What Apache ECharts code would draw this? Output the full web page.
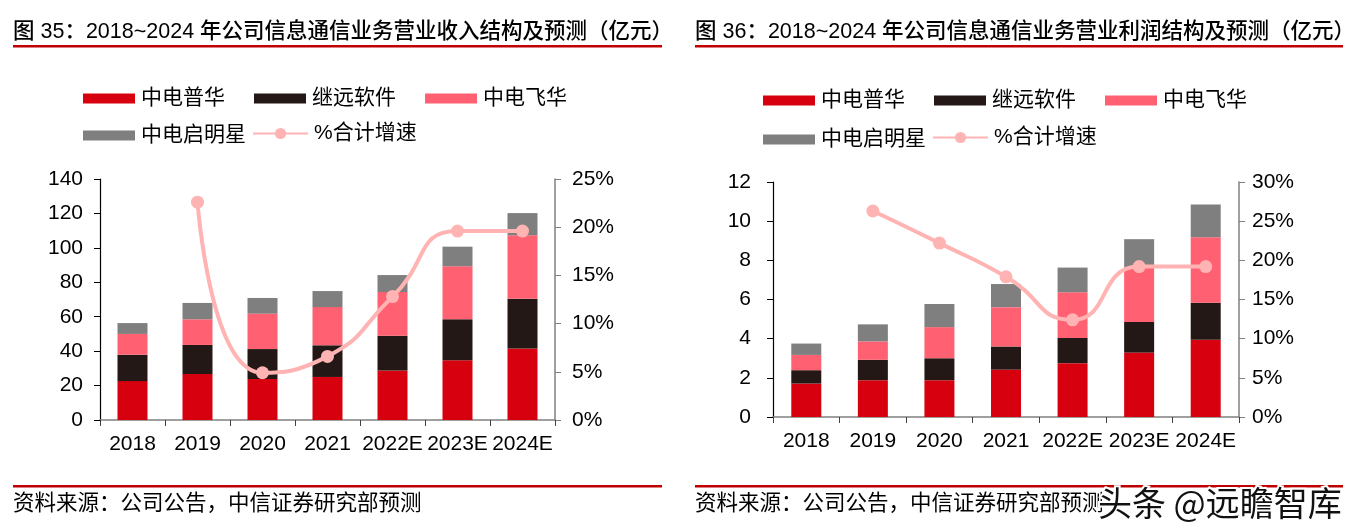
<!DOCTYPE html>
<html>
<head>
<meta charset="utf-8">
<script src="https://cdn.jsdelivr.net/npm/echarts@6/dist/echarts.min.js"></script>
<style>
html,body{margin:0;padding:0;background:#fff;}
#wrap{position:relative;width:1359px;height:531px;overflow:hidden;}
#c1{position:absolute;left:0;top:0;width:680px;height:531px;}
#c2{position:absolute;left:680px;top:0;width:679px;height:531px;}
</style>
</head>
<body>
<div id="wrap"><div id="c1"></div><div id="c2"></div></div>
<script>
const categories = ['2018', '2019', '2020', '2021', '2022E', '2023E', '2024E'];
const seriesNames = ['中电普华', '继远软件', '中电飞华', '中电启明星', '%合计增速'];

// 图35 营业收入（亿元）
const revPuhua  = [22.6, 26.7, 23.8, 25.0, 28.8, 34.7, 41.6];
const revJiyuan = [15.3, 16.9, 17.4, 18.4, 20.2, 23.8, 28.9];
const revFeihua = [12.1, 14.9, 20.6, 22.2, 25.3, 30.8, 36.8];
const revQiming = [6.3, 9.5, 9.1, 9.3, 9.9, 11.4, 12.9];
const revGrowth = [null, 22.6, 4.9, 6.6, 12.8, 19.6, 19.6];

// 图36 营业利润（亿元）
const proPuhua  = [1.71, 1.88, 1.88, 2.42, 2.75, 3.29, 3.94];
const proJiyuan = [0.68, 1.04, 1.12, 1.18, 1.29, 1.56, 1.90];
const proFeihua = [0.78, 0.94, 1.59, 2.01, 2.33, 2.80, 3.34];
const proQiming = [0.58, 0.87, 1.18, 1.18, 1.26, 1.43, 1.67];
const proGrowth = [null, 26.3, 22.2, 17.9, 12.4, 19.2, 19.2];

// axis ranges (tick labels)
const revAxis = {max: 140, interval: 20};
const revPctAxis = {max: 25, interval: 5};
const proAxis = {max: 12, interval: 2};
const proPctAxis = {max: 30, interval: 5};

const titles = ['图 35：2018~2024 年公司信息通信业务营业收入结构及预测（亿元）',
                '图 36：2018~2024 年公司信息通信业务营业利润结构及预测（亿元）'];
const sourceText = '资料来源：公司公告，中信证券研究部预测';
const watermark = '头条 @远瞻智库';

const COLORS = ['#D7000F', '#231815', '#FF6173', '#7F7F7F', '#FFB3B3'];
const FONT = '"Liberation Sans", "Noto Sans CJK SC", sans-serif';

function buildOption(cfg) {
  const legendPos = [
    {left: 78, top: cfg.row1}, {left: 249, top: cfg.row1}, {left: 420, top: cfg.row1},
    {left: 78, top: cfg.row2}, {left: 247, top: cfg.row2 - 2}
  ];
  const legends = seriesNames.map((n, i) => ({
    data: [n],
    left: legendPos[i].left,
    top: legendPos[i].top,
    itemWidth: i === 4 ? 55 : 52,
    itemHeight: i === 4 ? 14 : 10,
    itemGap: 0,
    icon: i === 4 ? undefined : 'rect',
    textStyle: {fontFamily: FONT, fontSize: 21, color: '#000', padding: [0, 0, 0, 1]},
    selectedMode: false
  }));
  const barNames = seriesNames.slice(0, 4);
  const series = cfg.bars.map((d, i) => ({
    name: barNames[i],
    type: 'bar',
    stack: 'total',
    data: d,
    barWidth: 30,
    itemStyle: {color: COLORS[i]},
    xAxisIndex: 0, yAxisIndex: 0
  }));
  series.push({
    name: seriesNames[4],
    type: 'line',
    data: cfg.growth,
    yAxisIndex: 1,
    smooth: 0.55,
    symbol: 'circle',
    symbolSize: 13,
    lineStyle: {color: COLORS[4], width: 4},
    itemStyle: {color: COLORS[4]},
    z: 10
  });
  return {
    animation: false,
    backgroundColor: '#fff',
    textStyle: {fontFamily: FONT},
    legend: legends,
    grid: {left: cfg.gridLeft, right: cfg.gridRight, top: cfg.gridTop, bottom: cfg.gridBottom, containLabel: false},
    xAxis: {
      type: 'category',
      data: categories,
      axisLine: {lineStyle: {color: '#808080', width: 1.5}},
      axisTick: {show: true, length: 6, lineStyle: {color: '#404040'}},
      axisLabel: {fontFamily: FONT, fontSize: 21, color: '#000', margin: 14, interval: 0}
    },
    yAxis: [{
      type: 'value', min: 0, max: cfg.leftAxis.max, interval: cfg.leftAxis.interval,
      axisLine: {show: true, lineStyle: {color: '#000', width: 1.2}},
      axisTick: {show: true, length: 6, lineStyle: {color: '#000'}},
      splitLine: {show: false},
      axisLabel: {fontFamily: FONT, fontSize: 21, color: '#000', margin: cfg.leftMargin}
    }, {
      type: 'value', min: 0, max: cfg.rightAxis.max, interval: cfg.rightAxis.interval,
      position: 'right',
      axisLine: {show: true, lineStyle: {color: '#808080', width: 1.5}},
      axisTick: {show: true, length: 6, lineStyle: {color: '#808080'}},
      splitLine: {show: false},
      axisLabel: {fontFamily: FONT, fontSize: 21, color: '#000', margin: cfg.rightMargin, formatter: '{value}%'}
    }],
    series: series,
    graphic: [
      {type: 'text', left: cfg.titleX, top: 21, style: {text: cfg.title, font: '500 21.5px ' + FONT, fill: '#000'}},
      {type: 'rect', shape: {x: cfg.titleX, y: 45, width: cfg.ruleW, height: 2.5}, style: {fill: '#C00000'}},
      {type: 'rect', shape: {x: cfg.titleX, y: 485, width: cfg.ruleW, height: 2.5}, style: {fill: '#C00000'}},
      {type: 'text', left: cfg.titleX, top: 493, style: {text: sourceText, font: '21.5px ' + FONT, fill: '#000'}}
    ].concat(cfg.extraGraphic || [])
  };
}

const c1 = echarts.init(document.getElementById('c1'));
c1.setOption(buildOption({
  title: titles[0], titleX: 13, ruleW: 649,
  row1: 83, row2: 120,
  gridLeft: 100, gridRight: 125, gridTop: 179, gridBottom: 111,
  leftMargin: 17, rightMargin: 17,
  leftAxis: revAxis, rightAxis: revPctAxis,
  bars: [revPuhua, revJiyuan, revFeihua, revQiming],
  growth: revGrowth
}));

const c2 = echarts.init(document.getElementById('c2'));
c2.setOption(buildOption({
  title: titles[1], titleX: 15, ruleW: 648,
  row1: 85, row2: 124,
  gridLeft: 93, gridRight: 120, gridTop: 182, gridBottom: 114,
  leftMargin: 22, rightMargin: 13,
  leftAxis: proAxis, rightAxis: proPctAxis,
  bars: [proPuhua, proJiyuan, proFeihua, proQiming],
  growth: proGrowth,
  extraGraphic: [
    {type: 'text', left: 416, top: 484, z: 100,
     style: {text: watermark, font: '34px "Noto Sans CJK SC", sans-serif', fill: '#111', stroke: '#fff', lineWidth: 4}}
  ]
}));
</script>
</body>
</html>
